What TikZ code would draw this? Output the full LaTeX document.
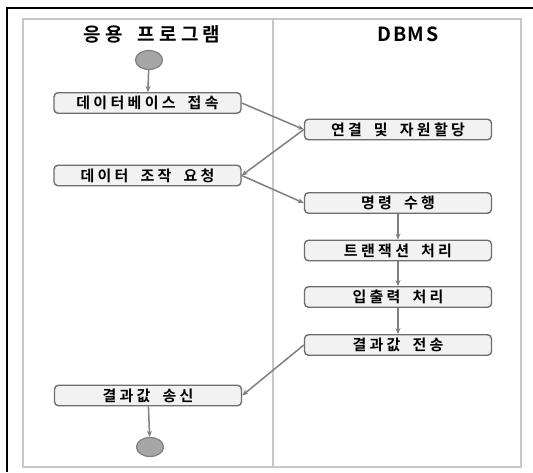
\documentclass[tikz,border=0pt]{standalone}
\usepackage{fontspec}
\setmainfont{Noto Sans CJK KR}[BoldFont={* Bold}]
\newfontfamily\krb{Noto Sans CJK KR Bold}[LetterSpace=22,WordSpace=1.8]
\newfontfamily\latb{Noto Sans CJK KR Bold}[LetterSpace=8]
\usetikzlibrary{arrows.meta,shapes.geometric}
\definecolor{lanegray}{HTML}{C8C8C8}
\definecolor{boxborder}{HTML}{6E6E6E}
\definecolor{boxfill}{HTML}{F2F2F2}
\definecolor{arrowgray}{HTML}{7F7F7F}
\definecolor{dotfill}{HTML}{A6A6A6}
\begin{document}
\begin{tikzpicture}[x=1pt,y=-1pt,
  actbox/.style={draw=boxborder,fill=boxfill,line width=1.4pt,rounded corners=4pt,
    minimum width=187pt,minimum height=20.5pt,inner sep=0pt,
    font=\krb\fontsize{15pt}{16pt}\selectfont},
  dot/.style={ellipse,draw=arrowgray,fill=dotfill,line width=1.2pt,
    minimum width=27pt,minimum height=19pt,inner sep=0pt},
  flow/.style={draw=arrowgray,line width=1.5pt,-{Stealth[length=6pt,width=5pt]}},
  lanetitle/.style={font=\krb\fontsize{19pt}{20pt}\selectfont,inner sep=0pt}
]
\useasboundingbox (0,0) rectangle (533,472);
\fill[white] (0,0) rectangle (533,472);
% outer black frame (left and top)
\draw[black,line width=1.6pt] (7,472) -- (7,8) -- (533,8);
% swimlanes
\draw[lanegray,line width=2pt] (23,19) rectangle (521,467);
\draw[lanegray,line width=2pt] (273,19) -- (273,467);
\node[lanetitle] (t1) at (152,34) {응용 프로그램};
\node[lanetitle,font=\latb\fontsize{19.5pt}{20pt}\selectfont] (t2) at (408,34) {DBMS};
% nodes
\node[dot] (start) at (149,60) {};
\node[actbox] (a1) at (147.5,103) {데이터베이스 접속};
\node[actbox] (a2) at (147.5,175.5) {데이터 조작 요청};
\node[actbox] (a3) at (148,395.5) {결과값 송신};
\node[dot] (end) at (150,447) {};
\node[actbox] (b1) at (398,129.5) {연결 및 자원할당};
\node[actbox] (b2) at (398,203) {명령 수행};
\node[actbox] (b3) at (398,250.5) {트랜잭션 처리};
\node[actbox] (b4) at (398,297) {입출력 처리};
\node[actbox] (b5) at (398,345) {결과값 전송};
% connectors
\draw[flow] (start) -- (a1);
\draw[flow] (a1.east) -- (b1.west);
\draw[flow] (b1.west) -- (a2.east);
\draw[flow] (a2.east) -- (b2.west);
\draw[flow] (b2) -- (b3);
\draw[flow] (b3) -- (b4);
\draw[flow] (b4) -- (b5);
\draw[flow] (b5.west) -- (a3.east);
\draw[flow] (a3) -- (end);
\end{tikzpicture}
\end{document}
